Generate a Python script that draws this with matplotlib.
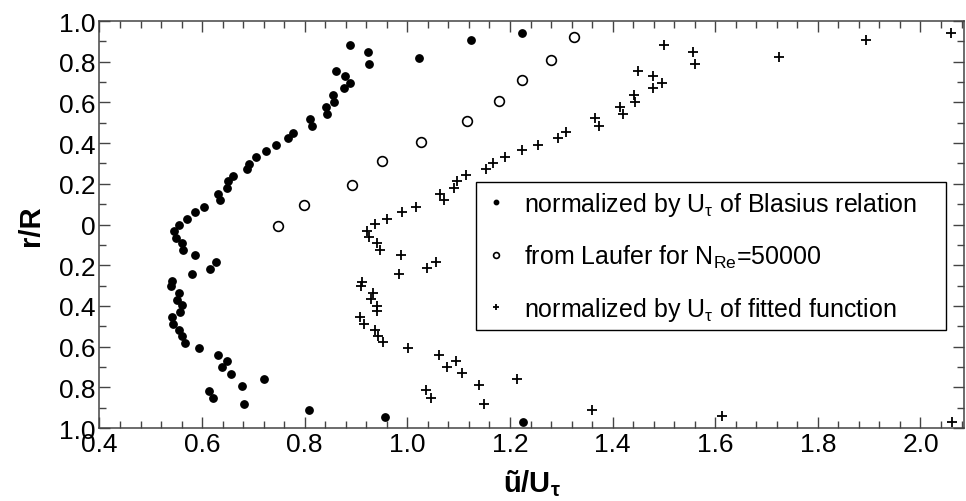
"""
velocity profile across pipe radius, three normalizations
"""

import matplotlib
matplotlib.use('Agg')
import matplotlib.pyplot as plt
from matplotlib.ticker import MultipleLocator, FuncFormatter

plt.rcParams['font.family'] = ['Liberation Sans', 'DejaVu Sans']
plt.rcParams['mathtext.fontset'] = 'custom'
plt.rcParams['mathtext.rm'] = 'Liberation Sans'
plt.rcParams['mathtext.it'] = 'Liberation Sans'
plt.rcParams['mathtext.bf'] = 'Liberation Sans:bold'

# r/R positions (positive = upper half, negative = lower half)
r_blasius = [0.940, 0.907, 0.881, 0.848, 0.820, 0.787, 0.756, 0.728, 0.695, 0.669,
             0.635, 0.604, 0.576, 0.543, 0.518, 0.484, 0.451, 0.424, 0.391, 0.363,
             0.332, 0.297, 0.271, 0.240, 0.212, 0.179, 0.148, 0.119, 0.087, 0.060,
             0.027, -0.001, -0.030, -0.065, -0.093, -0.124, -0.152, -0.184, -0.217, -0.243,
             -0.279, -0.304, -0.337, -0.369, -0.397, -0.428, -0.456, -0.489, -0.518, -0.548,
             -0.581, -0.607, -0.641, -0.672, -0.700, -0.733, -0.761, -0.792, -0.820, -0.853,
             -0.884, -0.912, -0.944, -0.971]
u_blasius = [1.223, 1.124, 0.889, 0.923, 1.023, 0.926, 0.860, 0.879, 0.888, 0.877,
             0.856, 0.858, 0.841, 0.843, 0.811, 0.815, 0.778, 0.768, 0.744, 0.724,
             0.705, 0.692, 0.687, 0.661, 0.650, 0.648, 0.631, 0.635, 0.604, 0.586,
             0.570, 0.555, 0.546, 0.549, 0.560, 0.562, 0.586, 0.627, 0.615, 0.581,
             0.542, 0.540, 0.555, 0.552, 0.561, 0.557, 0.541, 0.543, 0.555, 0.560,
             0.566, 0.594, 0.630, 0.648, 0.639, 0.656, 0.720, 0.678, 0.613, 0.622,
             0.682, 0.809, 0.956, 1.225]

r_laufer = [-0.005, 0.097, 0.196, 0.310, 0.407, 0.510, 0.608, 0.712, 0.808, 0.923]
u_laufer = [0.748, 0.799, 0.892, 0.950, 1.027, 1.116, 1.179, 1.224, 1.280, 1.325]

r_fitted = [0.940, 0.908, 0.882, 0.849, 0.822, 0.789, 0.756, 0.728, 0.695, 0.669,
            0.636, 0.604, 0.579, 0.543, 0.522, 0.486, 0.453, 0.425, 0.392, 0.365,
            0.332, 0.302, 0.273, 0.243, 0.215, 0.181, 0.148, 0.119, 0.086, 0.060,
            0.027, 0.001, -0.030, -0.063, -0.093, -0.124, -0.150, -0.183, -0.215, -0.242,
            -0.284, -0.300, -0.337, -0.366, -0.399, -0.427, -0.456, -0.487, -0.518, -0.548,
            -0.579, -0.605, -0.640, -0.671, -0.700, -0.731, -0.759, -0.789, -0.815, -0.851,
            -0.881, -0.910, -0.943, -0.972]
u_fitted = [2.060, 1.893, 1.501, 1.556, 1.724, 1.561, 1.449, 1.479, 1.497, 1.479,
            1.441, 1.443, 1.414, 1.421, 1.366, 1.374, 1.310, 1.293, 1.254, 1.223,
            1.190, 1.166, 1.154, 1.115, 1.096, 1.090, 1.064, 1.071, 1.016, 0.989,
            0.960, 0.937, 0.922, 0.925, 0.940, 0.946, 0.988, 1.055, 1.038, 0.983,
            0.912, 0.909, 0.933, 0.930, 0.940, 0.940, 0.907, 0.916, 0.937, 0.943,
            0.953, 1.001, 1.062, 1.094, 1.078, 1.106, 1.213, 1.140, 1.036, 1.046,
            1.149, 1.360, 1.614, 2.062]

labels = [r'normalized by U$_{\tau}$ of Blasius relation',
          r'from Laufer for N$_{\mathrm{Re}}$=50000',
          r'normalized by U$_{\tau}$ of fitted function']

fig = plt.figure(figsize=(9.66, 5.02), dpi=100)
ax = fig.add_axes([0.103, 0.1454, 0.895, 0.8107])

ax.plot(u_blasius, r_blasius, ls='none', marker='o', ms=5.3, mfc='k', mec='k',
        label=labels[0])
ax.plot(u_laufer, r_laufer, ls='none', marker='o', ms=7, mfc='none', mec='k',
        mew=1.2, label=labels[1])
ax.plot(u_fitted, r_fitted, ls='none', marker='+', ms=7, mec='k', mew=1.3,
        label=labels[2])

ax.set_xlim(0.4, 2.085)
ax.set_ylim(-1.0, 1.0)

ax.xaxis.set_major_locator(MultipleLocator(0.2))
ax.xaxis.set_minor_locator(MultipleLocator(0.04))
ax.yaxis.set_major_locator(MultipleLocator(0.2))
ax.yaxis.set_minor_locator(MultipleLocator(0.1))
ax.xaxis.set_major_formatter(FuncFormatter(lambda v, p: '%.1f' % v))


def r_label(v, pos):
    # lower half is shown with positive labels too
    if abs(v) < 1e-9:
        return '0'
    return '%.1f' % abs(v)


ax.yaxis.set_major_formatter(FuncFormatter(r_label))

ax.tick_params(which='both', direction='in', top=True, right=True,
               color='#444444', labelsize=19, pad=3)
ax.tick_params(which='major', length=8, width=1)
ax.tick_params(which='minor', length=5, width=1)
for s in ax.spines.values():
    s.set_color('#444444')
    s.set_linewidth(1.1)

ax.set_ylabel('r/R', fontsize=21, fontweight='bold', labelpad=10)
ax.set_xlabel(r'ũ/U$_{\mathbf{\tau}}$', fontsize=21, fontweight='bold', labelpad=8)

leg = ax.legend(loc='upper left', bbox_to_anchor=(0.436, 0.604, 0.543, 0.0),
                mode='expand', fontsize=18, markerscale=0.6, frameon=True,
                fancybox=False, framealpha=1, edgecolor='k', handlelength=1.0,
                handletextpad=0.6, labelspacing=1.0, borderpad=0.3,
                borderaxespad=0)
leg.get_frame().set_linewidth(1.0)

plt.savefig('out.png', dpi=100)
